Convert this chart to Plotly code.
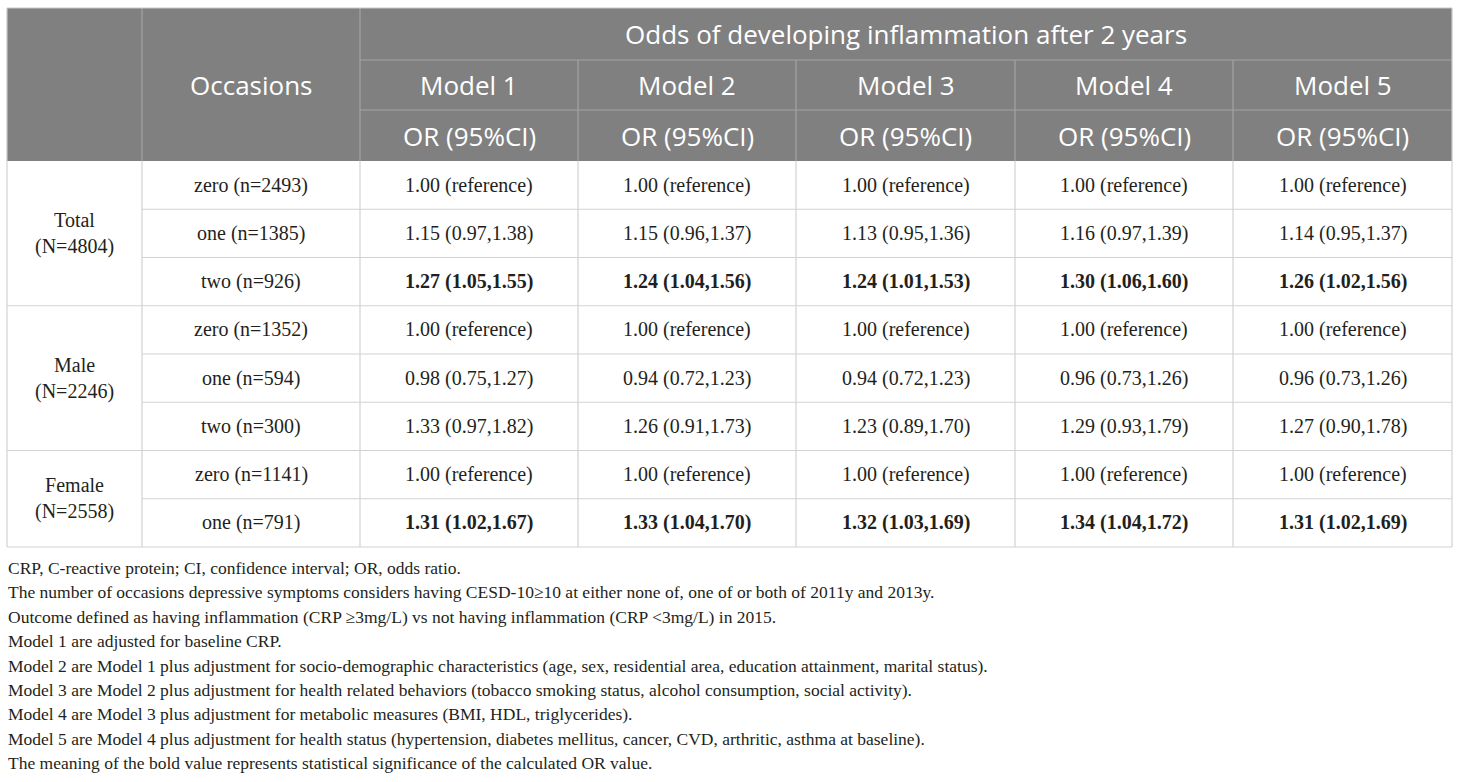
import plotly.graph_objects as go

# table content
super_header = "Odds of developing inflammation after 2 years"
occ_header = "Occasions"
models = ["Model 1", "Model 2", "Model 3", "Model 4", "Model 5"]
stat_label = "OR (95%CI)"

groups = ["Total<br>(N=4804)", "Male<br>(N=2246)", "Female<br>(N=2558)"]
group_sizes = [3, 3, 2]

occasions = [
    "zero (n=2493)", "one (n=1385)", "two (n=926)",
    "zero (n=1352)", "one (n=594)", "two (n=300)",
    "zero (n=1141)", "one (n=791)",
]

ref = "1.00 (reference)"
or_values = [
    [ref, ref, ref, ref, ref],
    ["1.15 (0.97,1.38)", "1.15 (0.96,1.37)", "1.13 (0.95,1.36)", "1.16 (0.97,1.39)", "1.14 (0.95,1.37)"],
    ["1.27 (1.05,1.55)", "1.24 (1.04,1.56)", "1.24 (1.01,1.53)", "1.30 (1.06,1.60)", "1.26 (1.02,1.56)"],
    [ref, ref, ref, ref, ref],
    ["0.98 (0.75,1.27)", "0.94 (0.72,1.23)", "0.94 (0.72,1.23)", "0.96 (0.73,1.26)", "0.96 (0.73,1.26)"],
    ["1.33 (0.97,1.82)", "1.26 (0.91,1.73)", "1.23 (0.89,1.70)", "1.29 (0.93,1.79)", "1.27 (0.90,1.78)"],
    [ref, ref, ref, ref, ref],
    ["1.31 (1.02,1.67)", "1.33 (1.04,1.70)", "1.32 (1.03,1.69)", "1.34 (1.04,1.72)", "1.31 (1.02,1.69)"],
]
significant = [False, False, True, False, False, False, False, True]

footnotes = [
    "CRP, C-reactive protein; CI, confidence interval; OR, odds ratio.",
    "The number of occasions depressive symptoms considers having CESD-10≥10 at either none of, one of or both of 2011y and 2013y.",
    "Outcome defined as having inflammation (CRP ≥3mg/L) vs not having inflammation (CRP <3mg/L) in 2015.",
    "Model 1 are adjusted for baseline CRP.",
    "Model 2 are Model 1 plus adjustment for socio-demographic characteristics (age, sex, residential area, education attainment, marital status).",
    "Model 3 are Model 2 plus adjustment for health related behaviors (tobacco smoking status, alcohol consumption, social activity).",
    "Model 4 are Model 3 plus adjustment for metabolic measures (BMI, HDL, triglycerides).",
    "Model 5 are Model 4 plus adjustment for health status (hypertension, diabetes mellitus, cancer, CVD, arthritic, asthma at baseline).",
    "The meaning of the bold value represents statistical significance of the calculated OR value.",
]

# geometry (pixel units on the hidden axes)
W, H = 1460, 782
col_edges = [7, 142, 360, 578, 796, 1015, 1233, 1452]
head_edges = [8, 60, 110, 161]
row_h = 48.25
body_top = 161
n_rows = len(occasions)
body_edges = [body_top + i * row_h for i in range(n_rows + 1)]
foot_y0, foot_dy = 568, 24.4

HEAD_BG = "#808080"
HEAD_LINE = "#a3a3a3"
BODY_LINE = "#d2d2d2"
TXT = "#231f20"
SANS = "Open Sans"
SERIF = "Liberation Serif"
HEAD_SIZE, BODY_SIZE, FOOT_SIZE = 26, 20, 17.5

shapes = []
annotations = []


def line(x0, y0, x1, y1, color):
    shapes.append(dict(type="line", xref="x", yref="y", x0=x0, y0=y0, x1=x1, y1=y1,
                       line=dict(color=color, width=1.2)))


def text(x, y, s, size, family, color, xanchor="center"):
    annotations.append(dict(x=x, y=y, xref="x", yref="y", text=s, showarrow=False,
                            xanchor=xanchor, yanchor="middle",
                            font=dict(size=size, family=family, color=color)))


def mid(a, b):
    return (a + b) / 2


# header block
shapes.append(dict(type="rect", xref="x", yref="y", x0=col_edges[0], x1=col_edges[-1],
                   y0=head_edges[0], y1=head_edges[-1], fillcolor=HEAD_BG, line=dict(width=0),
                   layer="below"))
line(col_edges[2], head_edges[1], col_edges[-1], head_edges[1], HEAD_LINE)
line(col_edges[2], head_edges[2], col_edges[-1], head_edges[2], HEAD_LINE)
line(col_edges[1], head_edges[0], col_edges[1], head_edges[-1], HEAD_LINE)
line(col_edges[2], head_edges[0], col_edges[2], head_edges[-1], HEAD_LINE)
for c in range(3, len(col_edges) - 1):
    line(col_edges[c], head_edges[1], col_edges[c], head_edges[-1], HEAD_LINE)

text(mid(col_edges[2], col_edges[-1]), mid(head_edges[0], head_edges[1]), super_header, HEAD_SIZE, SANS, "white")
text(mid(col_edges[1], col_edges[2]), mid(head_edges[0], head_edges[-1]), occ_header, HEAD_SIZE, SANS, "white")
for i, m in enumerate(models):
    cx = mid(col_edges[i + 2], col_edges[i + 3])
    text(cx, mid(head_edges[1], head_edges[2]), m, HEAD_SIZE, SANS, "white")
    text(cx, mid(head_edges[2], head_edges[3]), stat_label, HEAD_SIZE, SANS, "white")

# body grid
line(col_edges[0], head_edges[0], col_edges[-1], head_edges[0], "#c8c8c8")
for c in col_edges:
    line(c, body_top, c, body_edges[-1], BODY_LINE)
line(col_edges[0], head_edges[0], col_edges[0], head_edges[-1], "#c8c8c8")
line(col_edges[-1], head_edges[0], col_edges[-1], head_edges[-1], "#c8c8c8")

group_starts = [sum(group_sizes[:g]) for g in range(len(group_sizes))]
for r in range(1, n_rows + 1):
    x0 = col_edges[0] if r in group_starts or r == n_rows else col_edges[1]
    line(x0, body_edges[r], col_edges[-1], body_edges[r], BODY_LINE)

for g, label in enumerate(groups):
    r0 = group_starts[g]
    r1 = r0 + group_sizes[g]
    text(mid(col_edges[0], col_edges[1]), mid(body_edges[r0], body_edges[r1]), label, BODY_SIZE, SERIF, TXT)

for r in range(n_rows):
    cy = mid(body_edges[r], body_edges[r + 1])
    text(mid(col_edges[1], col_edges[2]), cy, occasions[r], BODY_SIZE, SERIF, TXT)
    for m in range(len(models)):
        s = or_values[r][m]
        if significant[r]:
            s = "<b>" + s + "</b>"
        text(mid(col_edges[m + 2], col_edges[m + 3]), cy, s, BODY_SIZE, SERIF, TXT)

for i, note in enumerate(footnotes):
    text(col_edges[0] - 1, foot_y0 + i * foot_dy, note, FOOT_SIZE, SERIF, TXT, xanchor="left")

fig = go.Figure()
fig.add_trace(go.Scatter(x=[0, W], y=[0, H], mode="markers", marker=dict(opacity=0),
                         hoverinfo="skip", showlegend=False))
fig.update_layout(
    width=W, height=H,
    margin=dict(l=0, r=0, t=0, b=0),
    paper_bgcolor="white", plot_bgcolor="white",
    xaxis=dict(range=[0, W], visible=False, fixedrange=True),
    yaxis=dict(range=[H, 0], visible=False, fixedrange=True),
    shapes=shapes, annotations=annotations,
)
fig.write_html("out.html", config={"displayModeBar": False},
               post_script="document.body.style.margin='0px';")
